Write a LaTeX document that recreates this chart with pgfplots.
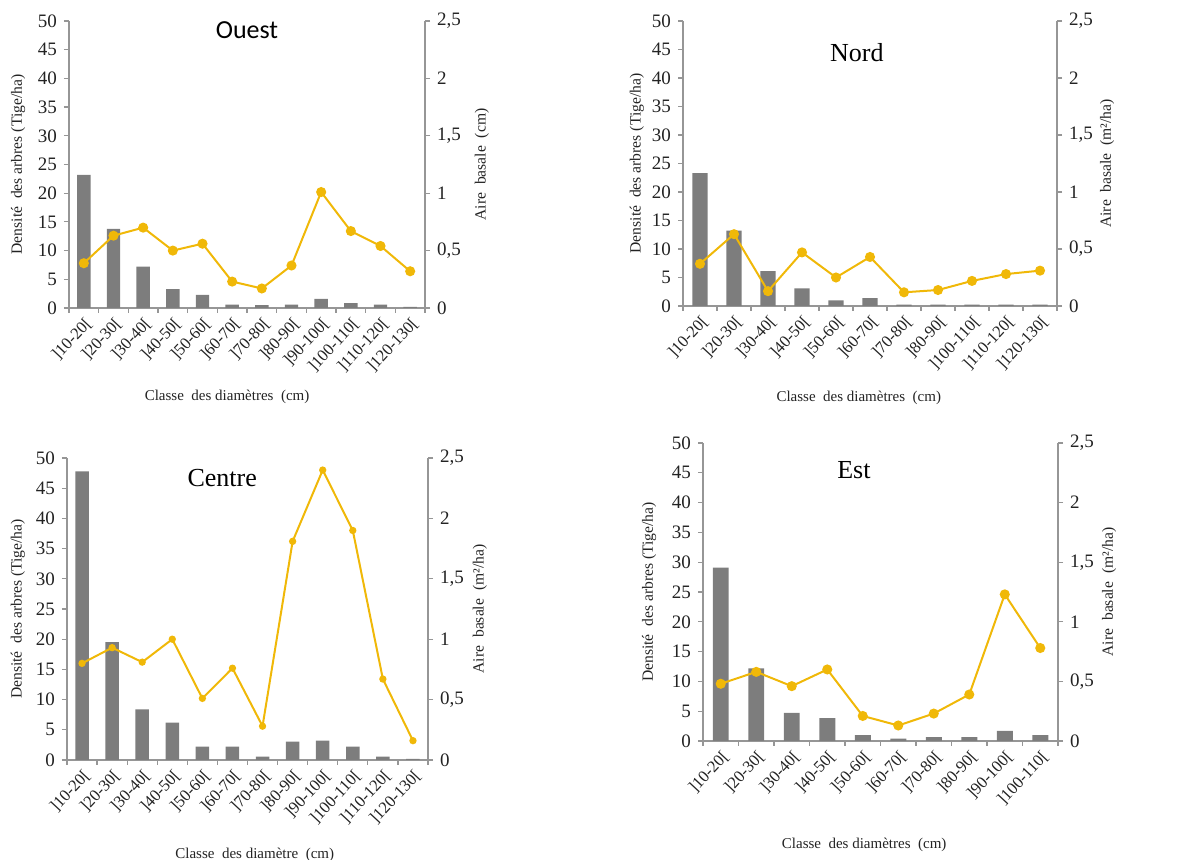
\documentclass[border=0pt]{standalone}
\usepackage{fontspec}
\setmainfont{Liberation Serif}
\newfontfamily\calibri{Carlito}
\usepackage{pgfplots}
\pgfplotsset{compat=1.18}
\definecolor{bargray}{RGB}{125,125,125}
\definecolor{gold}{RGB}{240,184,8}
\definecolor{axgray}{RGB}{150,150,150}
\definecolor{txt}{RGB}{35,35,35}

\pgfplotsset{
  base/.style={scale only axis, clip=false,
    /pgf/number format/assume math mode=true,
    ticklabel style={font=\fontsize{9.5}{10}\selectfont, text=txt},
    label style={font=\fontsize{7.8}{8.5}\selectfont, text=txt},
    axis line style={draw=axgray, line width=0.6pt},
    tick style={draw=axgray, line width=0.6pt},
    tick align=outside, major tick length=2.5pt, minor tick length=2.5pt,
  },
  leftax/.style={base, axis y line*=left, axis x line*=bottom,
    ymin=0, ymax=50, ytick={0,5,...,50},
    ybar, bar width=0.45,
    major x tick style={draw=none},
    xticklabel style={rotate=47, anchor=north east, inner sep=1pt, font=\fontsize{8.3}{9}\selectfont},
  },
  rightax/.style={base, axis y line*=right, axis x line=none,
    ymin=0, ymax=2.5, ytick={0,0.5,1,1.5,2,2.5},
    yticklabel style={/pgf/number format/use comma},
  },
  barst/.style={fill=bargray, draw=none},
  linest/.style={gold, line width=1pt, mark=*, mark size=2pt, mark options={fill=gold, draw=gold}},
}

\begin{document}
\begin{tikzpicture}
\path[use as bounding box] (0,0) rectangle (594pt,430pt);

% ---------------- Ouest ----------------
\begin{axis}[leftax, at={(34.5pt,276pt)}, anchor=south west, width=178pt, height=143.5pt,
  xmin=-0.5, xmax=11.5, xtick={0,...,11},
  minor xtick={-0.5,0.5,...,11.5},
  xticklabels={{]10-20[},{]20-30[},{]30-40[},{]40-50[},{]50-60[},{]60-70[},{]70-80[},{]80-90[},{]90-100[},{]100-110[},{]110-120[},{]120-130[}},
  xlabel={Classe\ \ des diamètres\ \ (cm)},
  xlabel style={at={(axis description cs:0.444,-0.31)}, anchor=center, font=\fontsize{7.5}{8}\selectfont},
  ylabel={Densité\ \ des arbres (Tige/ha)},
  ylabel style={at={(axis description cs:-0.143,0.5)}, anchor=center},
]
\addplot[barst] coordinates {(0,23.2) (1,13.8) (2,7.2) (3,3.3) (4,2.3) (5,0.6) (6,0.5) (7,0.6) (8,1.6) (9,0.85) (10,0.6) (11,0.2)};
\node[font=\calibri\fontsize{13}{14}\selectfont] at (axis description cs:0.5,0.969) {Ouest};
\end{axis}
\begin{axis}[rightax, at={(34.5pt,276pt)}, anchor=south west, width=178pt, height=143.5pt,
  xmin=-0.5, xmax=11.5,
  ylabel={Aire\ \ basale\ \ (cm)},
  ylabel style={at={(axis description cs:1.16,0.5)}, anchor=center},
]
\addplot[linest] coordinates {(0,0.39) (1,0.63) (2,0.70) (3,0.50) (4,0.56) (5,0.23) (6,0.17) (7,0.37) (8,1.01) (9,0.67) (10,0.54) (11,0.32)};
\end{axis}

% ---------------- Nord ----------------
\begin{axis}[leftax, at={(341.5pt,277pt)}, anchor=south west, width=187pt, height=142.5pt,
  xmin=-0.5, xmax=10.5, xtick={0,...,10},
  minor xtick={-0.5,0.5,...,10.5},
  xticklabels={{]10-20[},{]20-30[},{]30-40[},{]40-50[},{]50-60[},{]60-70[},{]70-80[},{]80-90[},{]100-110[},{]110-120[},{]120-130[}},
  xlabel={Classe\ \ des diamètres\ \ (cm)},
  xlabel style={at={(axis description cs:0.47,-0.323)}, anchor=center, font=\fontsize{7.5}{8}\selectfont},
  ylabel={Densité\ \ des arbres (Tige/ha)},
  ylabel style={at={(axis description cs:-0.123,0.5)}, anchor=center},
]
\addplot[barst] coordinates {(0,23.3) (1,13.2) (2,6.1) (3,3.1) (4,1.0) (5,1.4) (6,0.25) (7,0.25) (8,0.25) (9,0.25) (10,0.25)};
\node[font=\fontsize{13}{14}\selectfont] at (axis description cs:0.465,0.888) {Nord};
\end{axis}
\begin{axis}[rightax, at={(341.5pt,277pt)}, anchor=south west, width=187pt, height=142.5pt,
  xmin=-0.5, xmax=10.5,
  ylabel={Aire\ \ basale\ \ (m²/ha)},
  ylabel style={at={(axis description cs:1.134,0.5)}, anchor=center},
]
\addplot[linest] coordinates {(0,0.37) (1,0.63) (2,0.13) (3,0.47) (4,0.25) (5,0.43) (6,0.12) (7,0.14) (8,0.22) (9,0.28) (10,0.31)};
\end{axis}

% ---------------- Centre ----------------
\begin{axis}[leftax, at={(33.5pt,50pt)}, anchor=south west, width=180.5pt, height=151pt,
  xmin=-0.5, xmax=11.5, xtick={0,...,11},
  minor xtick={-0.5,0.5,...,11.5},
  xticklabels={{]10-20[},{]20-30[},{]30-40[},{]40-50[},{]50-60[},{]60-70[},{]70-80[},{]80-90[},{]90-100[},{]100-110[},{]110-120[},{]120-130[}},
  xlabel={Classe\ \ des diamètre\ \ (cm)},
  xlabel style={at={(axis description cs:0.52,-0.315)}, anchor=center, font=\fontsize{7.5}{8}\selectfont},
  ylabel={Densité\ \ des arbres (Tige/ha)},
  ylabel style={at={(axis description cs:-0.136,0.5)}, anchor=center},
]
\addplot[barst] coordinates {(0,47.8) (1,19.5) (2,8.4) (3,6.2) (4,2.2) (5,2.2) (6,0.55) (7,3.05) (8,3.2) (9,2.2) (10,0.55) (11,0.2)};
\node[font=\fontsize{13}{14}\selectfont] at (axis description cs:0.43,0.934) {Centre};
\end{axis}
\begin{axis}[rightax, at={(33.5pt,50pt)}, anchor=south west, width=180.5pt, height=151pt,
  xmin=-0.5, xmax=11.5,
  ylabel={Aire\ \ basale\ \ (m²/ha)},
  ylabel style={at={(axis description cs:1.144,0.5)}, anchor=center},
]
\addplot[linest, mark size=1.3pt] coordinates {(0,0.80) (1,0.93) (2,0.81) (3,1.00) (4,0.51) (5,0.76) (6,0.28) (7,1.81) (8,2.40) (9,1.90) (10,0.67) (11,0.16)};
\end{axis}

% ---------------- Est ----------------
\begin{axis}[leftax, at={(351.5pt,59.5pt)}, anchor=south west, width=177.5pt, height=149pt,
  xmin=-0.5, xmax=9.5, xtick={0,...,9},
  minor xtick={-0.5,0.5,...,9.5},
  xticklabels={{]10-20[},{]20-30[},{]30-40[},{]40-50[},{]50-60[},{]60-70[},{]70-80[},{]80-90[},{]90-100[},{]100-110[}},
  xlabel={Classe\ \ des diamètres\ \ (cm)},
  xlabel style={at={(axis description cs:0.454,-0.349)}, anchor=center, font=\fontsize{7.5}{8}\selectfont},
  ylabel={Densité\ \ des arbres (Tige/ha)},
  ylabel style={at={(axis description cs:-0.152,0.5)}, anchor=center},
]
\addplot[barst] coordinates {(0,29.1) (1,12.2) (2,4.7) (3,3.85) (4,1.0) (5,0.4) (6,0.65) (7,0.65) (8,1.7) (9,1.0)};
\node[font=\fontsize{13}{14}\selectfont] at (axis description cs:0.425,0.909) {Est};
\end{axis}
\begin{axis}[rightax, at={(351.5pt,59.5pt)}, anchor=south west, width=177.5pt, height=149pt,
  xmin=-0.5, xmax=9.5,
  ylabel={Aire\ \ basale\ \ (m²/ha)},
  ylabel style={at={(axis description cs:1.144,0.5)}, anchor=center},
]
\addplot[linest] coordinates {(0,0.48) (1,0.58) (2,0.46) (3,0.60) (4,0.21) (5,0.13) (6,0.23) (7,0.39) (8,1.23) (9,0.78)};
\end{axis}
\end{tikzpicture}
\end{document}
